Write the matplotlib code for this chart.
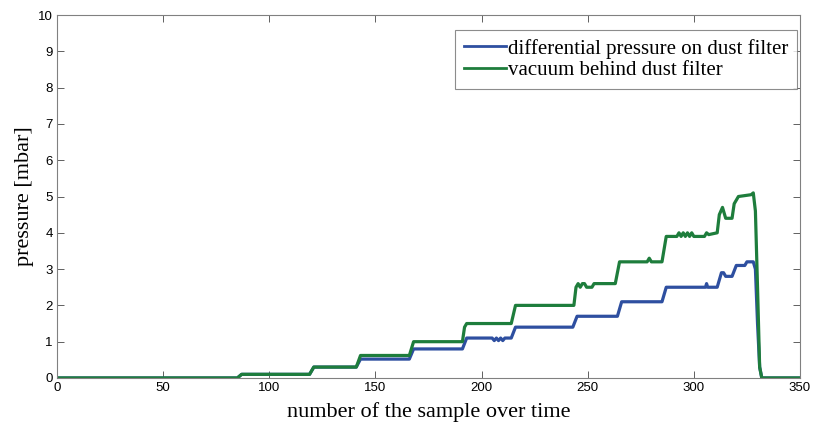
import matplotlib
matplotlib.use("Agg")
import matplotlib.pyplot as plt

### Data (breakpoints of the step curves)

dp_x = [0, 85, 87, 119, 121, 141, 143, 166, 168, 191, 193, 205, 206, 207, 208, 209, 210, 211,
        214, 216, 243, 245, 264, 266, 285, 287, 305.5, 306, 306.5, 311, 313, 314, 315, 318,
        320, 324, 325, 328, 329, 330, 331, 332, 350]
dp_y = [0, 0, 0.1, 0.1, 0.3, 0.3, 0.52, 0.52, 0.8, 0.8, 1.1, 1.1, 1.03, 1.1, 1.03, 1.1, 1.03, 1.1,
        1.1, 1.4, 1.4, 1.7, 1.7, 2.1, 2.1, 2.5, 2.5, 2.6, 2.5, 2.5, 2.9, 2.9, 2.8, 2.8,
        3.1, 3.1, 3.2, 3.2, 3.0, 1.5, 0.3, 0, 0]

vac_x = [0, 85, 87, 119, 121, 141, 143, 166, 168, 191, 192, 193, 214, 216, 243.5, 244.5, 245.5,
         246.5, 247.5, 248.5, 249.5, 252, 253, 263, 265, 278, 279, 280, 285, 287, 292, 293, 294,
         295, 296, 297, 298, 299, 300, 305, 306, 307, 311, 312, 313.5, 315, 318, 319, 321, 327,
         328, 329, 330, 331, 332, 350]
vac_y = [0, 0, 0.1, 0.1, 0.3, 0.3, 0.62, 0.62, 1.0, 1.0, 1.4, 1.5, 1.5, 2.0, 2.0, 2.5, 2.6,
         2.5, 2.6, 2.6, 2.5, 2.5, 2.6, 2.6, 3.2, 3.2, 3.3, 3.2, 3.2, 3.9, 3.9, 4.0, 3.9,
         4.0, 3.9, 4.0, 3.9, 4.0, 3.9, 3.9, 4.0, 3.95, 4.0, 4.5, 4.7, 4.4, 4.4, 4.8, 5.0, 5.05,
         5.1, 4.6, 2.5, 0.3, 0, 0]

labels = ["differential pressure on dust filter", "vacuum behind dust filter"]

### Plot

fig = plt.figure(figsize=(8.13, 4.30), dpi=100)
ax = fig.add_axes([0.070, 0.121, 0.914, 0.844])

ax.plot(dp_x, dp_y, color="#2e4fa0", linewidth=2.3, label=labels[0])
ax.plot(vac_x, vac_y, color="#1e7d3c", linewidth=2.3, label=labels[1])

ax.set_xlim(0, 350)
ax.set_ylim(0, 10)
ax.set_xticks(range(0, 351, 50))
ax.set_yticks(range(0, 11))

for s in ax.spines.values():
    s.set_color("#808080")
    s.set_linewidth(0.8)
ax.tick_params(direction="in", top=True, right=True, length=5, width=0.7,
               color="#606060", labelsize=9.5, pad=3)
for t in ax.get_xticklabels() + ax.get_yticklabels():
    t.set_family("Liberation Sans")

ax.set_xlabel("number of the sample over time", family="Liberation Serif", fontsize=16, labelpad=6)
ax.set_ylabel("pressure [mbar]", family="Liberation Serif", fontsize=16, labelpad=3)

leg = ax.legend(loc="upper right", bbox_to_anchor=(0.996, 0.959),
                prop={"family": "Liberation Serif", "size": 15},
                fancybox=False, edgecolor="#707070", handlelength=2.0, handletextpad=0.1,
                borderaxespad=0.0, labelspacing=0.1, borderpad=0.42)
leg.get_frame().set_linewidth(0.8)
for h in leg.get_lines():
    h.set_linewidth(2.0)

fig.savefig("out.png", dpi=100)
